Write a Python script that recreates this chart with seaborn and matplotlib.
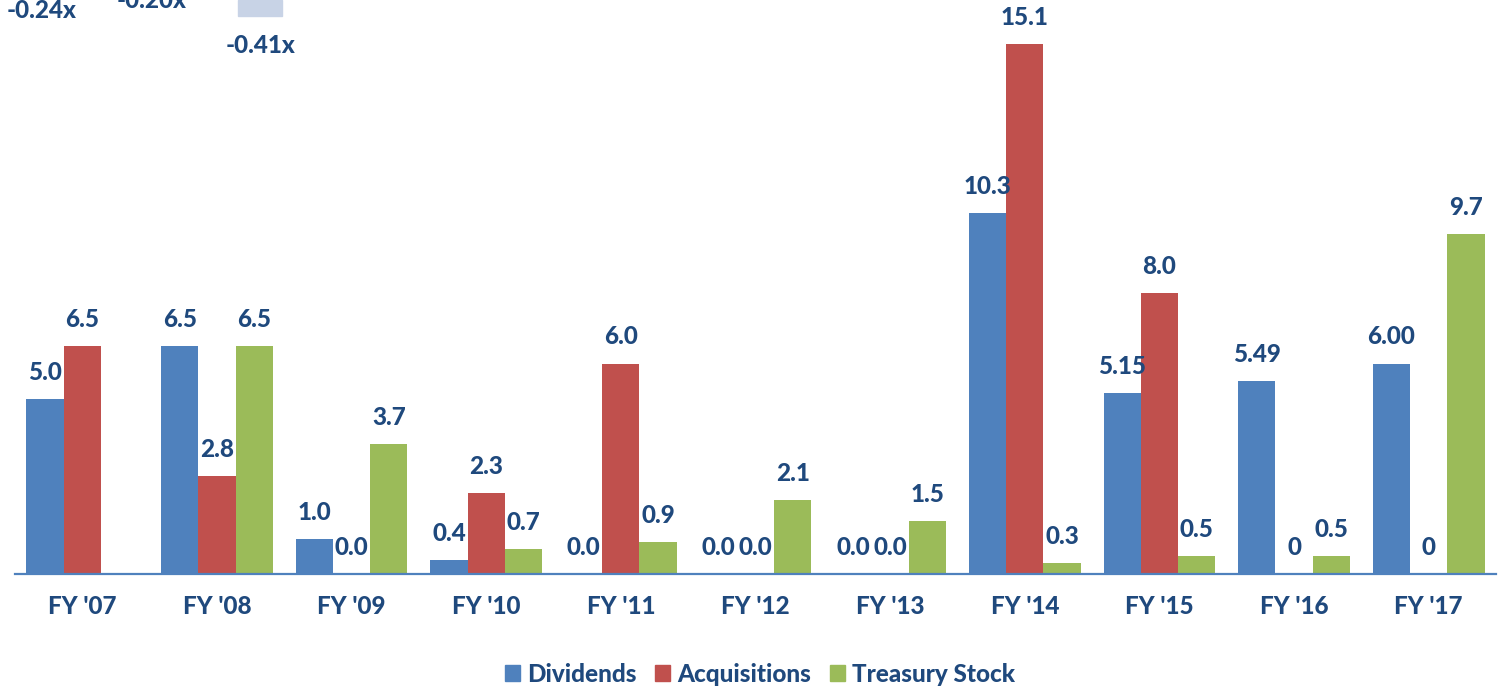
import matplotlib
matplotlib.use("Agg")
import matplotlib.pyplot as plt
import matplotlib.patches as mpatches
import numpy as np
import pandas as pd
import seaborn as sns

# Fiscal years and uses of cash ($ bn)
years = ["FY '07", "FY '08", "FY '09", "FY '10", "FY '11", "FY '12",
         "FY '13", "FY '14", "FY '15", "FY '16", "FY '17"]
series = ["Dividends", "Acquisitions", "Treasury Stock"]

dividends = [5.0, 6.5, 1.0, 0.4, 0.0, 0.0, 0.0, 10.3, 5.15, 5.49, 6.00]
acquisitions = [6.5, 2.8, 0.0, 2.3, 6.0, 0.0, 0.0, 15.1, 8.0, 0.0, 0.0]
treasury = [0.0, 6.5, 3.7, 0.7, 0.9, 2.1, 1.5, 0.3, 0.5, 0.5, 9.7]

dividend_labels = ["5.0", "6.5", "1.0", "0.4", "0.0", "0.0", "0.0", "10.3", "5.15", "5.49", "6.00"]
acquisition_labels = ["6.5", "2.8", "0.0", "2.3", "6.0", "0.0", "0.0", "15.1", "8.0", "0", "0"]
treasury_labels = ["", "6.5", "3.7", "0.7", "0.9", "2.1", "1.5", "0.3", "0.5", "0.5", "9.7"]

# Multiples shown along the top edge
multiple_labels = ["-0.24x", "-0.20x", "-0.41x"]

colors = ["#4F81BD", "#C0504D", "#9BBB59"]
text_color = "#1F497D"
WEIGHT = 900
FS = 17.5

df = pd.DataFrame({
    "year": years * 3,
    "series": np.repeat(series, len(years)),
    "value": dividends + acquisitions + treasury,
})

sns.set_theme(style="white")
plt.rcParams["font.family"] = ["Lato", "DejaVu Sans"]
plt.rcParams["font.weight"] = WEIGHT

W, H = 1509, 689
fig = plt.figure(figsize=(W / 100, H / 100), dpi=100)
ax = fig.add_axes([15 / W, (H - 574) / H, 1481 / W, 574 / H])

sns.barplot(data=df, x="year", y="value", hue="series", order=years,
            hue_order=series, palette=colors, width=0.83, gap=0,
            saturation=1, linewidth=0, legend=False, ax=ax)

ax.set_xlim(-0.5, 10.5)
ax.set_ylim(0, 574 / 35.08)

for container, labels in zip(ax.containers, [dividend_labels, acquisition_labels, treasury_labels]):
    for bar, lab in zip(container, labels):
        if not lab:
            continue
        ax.annotate(lab, (bar.get_x() + bar.get_width() / 2, bar.get_height()),
                    xytext=(0, 13.7), textcoords="offset points",
                    ha="center", va="baseline", fontsize=FS,
                    fontweight=WEIGHT, color=text_color)

for side in ["left", "right", "top"]:
    ax.spines[side].set_visible(False)
ax.spines["bottom"].set_color("#4F81BD")
ax.spines["bottom"].set_linewidth(1.6)
ax.set_yticks([])
ax.set_xlabel("")
ax.set_ylabel("")
ax.tick_params(axis="x", length=0, pad=15, labelsize=FS, labelcolor=text_color)
for t in ax.get_xticklabels():
    t.set_fontweight(WEIGHT)

handles = [mpatches.Patch(color=c, label=s) for c, s in zip(colors, series)]
leg = fig.legend(handles=handles, loc="center", bbox_to_anchor=(760 / W, 1 - 674 / H),
                 ncol=3, frameon=False, fontsize=FS, handlelength=0.62,
                 handleheight=0.62, handletextpad=0.29, columnspacing=0.78)
for t in leg.get_texts():
    t.set_color(text_color)
    t.set_fontweight(WEIGHT)

# Multiples strip at the top edge
fig.text(7 / W, 1 - 18 / H, multiple_labels[0], fontsize=FS, fontweight=WEIGHT,
         color=text_color, ha="left", va="baseline")
fig.text(117 / W, 1 - 8 / H, multiple_labels[1], fontsize=FS, fontweight=WEIGHT,
         color=text_color, ha="left", va="baseline")
fig.patches.append(mpatches.Rectangle((238 / W, 1 - 16 / H), 44 / W, 16 / H,
                                      transform=fig.transFigure, color="#C8D3E6"))
fig.text(226 / W, 1 - 53 / H, multiple_labels[2], fontsize=FS, fontweight=WEIGHT,
         color=text_color, ha="left", va="baseline")

fig.savefig("out.png", dpi=100)
